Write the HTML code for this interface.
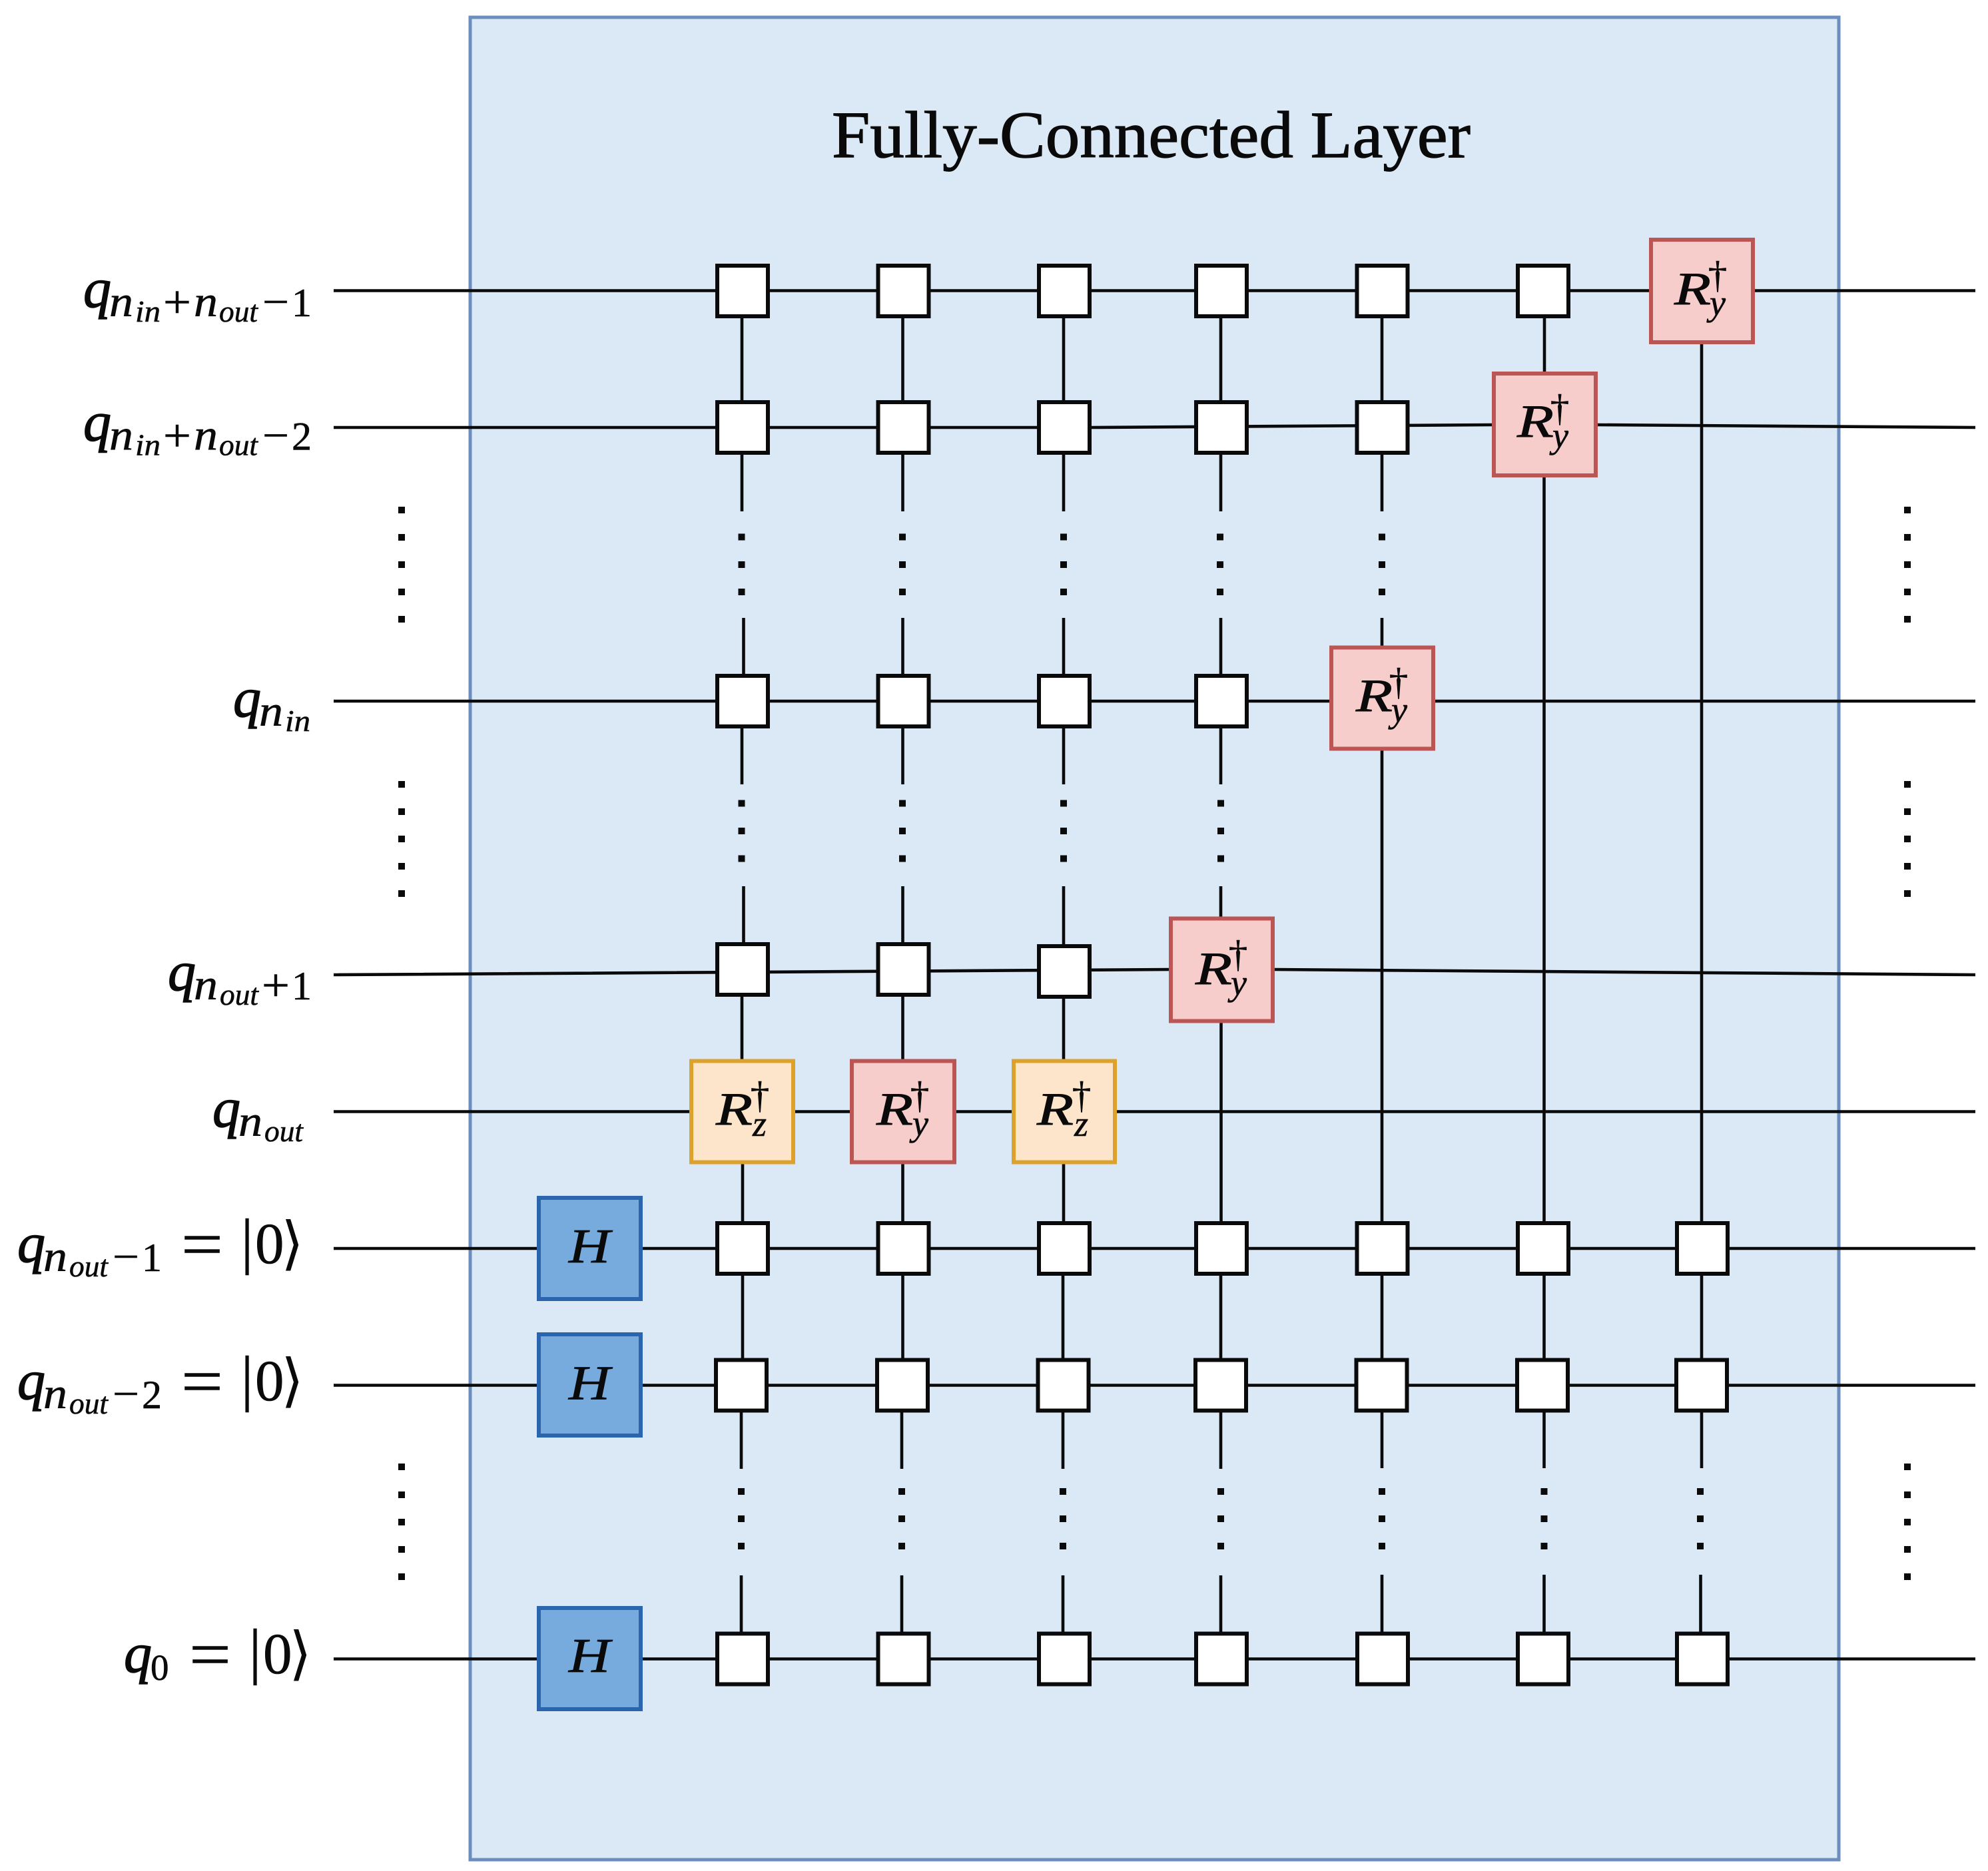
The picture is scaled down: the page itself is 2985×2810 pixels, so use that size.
<!DOCTYPE html>
<html><head><meta charset="utf-8"><title>Fully-Connected Layer</title>
<style>
html,body{margin:0;padding:0;background:#fff}
svg{display:block}
text{fill:#0a0a0a;font-family:"Liberation Serif",serif;stroke:#0a0a0a;stroke-width:.6px}
.q{font-style:italic;font-size:84px;stroke-width:1.4px}
.n{font-style:italic;font-size:66px}
.s{font-style:italic;font-size:46px}
.y{font-style:italic;font-size:54px}
.p{font-size:70px}
.mn{font-size:62px}
.d{font-size:60px}
.R{font-style:italic;font-size:70px;stroke-width:.9px}
.g{font-size:57px;text-anchor:middle}
.H{font-style:italic;font-size:73px;stroke-width:.8px}
.w{fill:#fff;stroke:#0a0a0a;stroke-width:6}
.ry{fill:#f7cdcc;stroke:#bb5654;stroke-width:6}
.rz{fill:#fde5cc;stroke:#dca22b;stroke-width:6}
.h{fill:#77abdd;stroke:#2a65ae;stroke-width:6}
.l{fill:none;stroke:#0a0a0a;stroke-width:4.6}
</style></head><body>
<svg xmlns="http://www.w3.org/2000/svg" width="2985" height="2810" viewBox="0 0 2985 2810">
<rect width="2985" height="2810" fill="#fff"/>
<rect x="706" y="26" width="2055" height="2767" fill="#dbe8f5" stroke="#6c8ebf" stroke-width="5"/>
<text x="1249" y="236" font-size="100" textLength="959" lengthAdjust="spacingAndGlyphs" style="stroke-width:1.3px">Fully-Connected Layer</text>

<path class="l" d="M501 436.500H2966M501 642H1638L2241 638M2398 638L2966 642M501 1053H2966M501 1464L1756 1456M1913 1456L2966 1464M501 1669.500H2966M501 1875H2966M501 2080.500H2966M501 2491.500H2966"/>

<path class="l" d="M1114 437V768M1116.500 928V1013M1114 1053V1178M1116.500 1331V1416M1114 1456V1592M1115 1747V1875M1115 1875V2041M1113 2120V2206M1113 2366V2491"/>
<path class="l" d="M1355.500 437V768M1355.500 928V1178M1355.500 1331V1416M1355.500 1456V1875M1355.500 1875V2041M1354 2120V2206M1354 2366V2491"/>
<path class="l" d="M1597 437V768M1597 928V1178M1597 1331V1420M1597 1459V1875M1596 1875V2041M1596 2120V2206M1596 2366V2491"/>
<path class="l" d="M1833 437V768M1833 928V1178M1833 1331V1377M1833.500 1535V1875M1833 1875V2206M1833 2366V2491"/>
<path class="l" d="M2075 437V768M2075 928V971M2075 1126V2205M2075 2365V2491"/>
<path class="l" d="M2319 437V559M2318.500 716V2205M2318.500 2365V2491"/>
<path class="l" d="M2555 516V2205M2553.500 2365V2491"/>

<g fill="#0a0a0a">
<rect x="598" y="761" width="10" height="10"/><rect x="598" y="802" width="10" height="10"/><rect x="598" y="843" width="10" height="10"/><rect x="598" y="884" width="10" height="10"/><rect x="598" y="925" width="10" height="10"/>
<rect x="598" y="1173" width="10" height="10"/><rect x="598" y="1214" width="10" height="10"/><rect x="598" y="1255" width="10" height="10"/><rect x="598" y="1296" width="10" height="10"/><rect x="598" y="1337" width="10" height="10"/>
<rect x="598" y="2198" width="10" height="10"/><rect x="598" y="2240" width="10" height="10"/><rect x="598" y="2281" width="10" height="10"/><rect x="598" y="2322" width="10" height="10"/><rect x="598" y="2363" width="10" height="10"/>
<rect x="2859" y="761" width="10" height="10"/><rect x="2859" y="802" width="10" height="10"/><rect x="2859" y="843" width="10" height="10"/><rect x="2859" y="884" width="10" height="10"/><rect x="2859" y="925" width="10" height="10"/>
<rect x="2859" y="1173" width="10" height="10"/><rect x="2859" y="1214" width="10" height="10"/><rect x="2859" y="1255" width="10" height="10"/><rect x="2859" y="1296" width="10" height="10"/><rect x="2859" y="1337" width="10" height="10"/>
<rect x="2859" y="2198" width="10" height="10"/><rect x="2859" y="2240" width="10" height="10"/><rect x="2859" y="2281" width="10" height="10"/><rect x="2859" y="2322" width="10" height="10"/><rect x="2859" y="2363" width="10" height="10"/>

<rect x="1108.500" y="801.500" width="10" height="10"/><rect x="1108.500" y="843" width="10" height="10"/><rect x="1108.500" y="884" width="10" height="10"/>
<rect x="1350" y="801.500" width="10" height="10"/><rect x="1350" y="843" width="10" height="10"/><rect x="1350" y="884" width="10" height="10"/>
<rect x="1592" y="801.500" width="10" height="10"/><rect x="1592" y="843" width="10" height="10"/><rect x="1592" y="884" width="10" height="10"/>
<rect x="1827" y="801.500" width="10" height="10"/><rect x="1827" y="843" width="10" height="10"/><rect x="1827" y="884" width="10" height="10"/>
<rect x="2070" y="801.500" width="10" height="10"/><rect x="2070" y="843" width="10" height="10"/><rect x="2070" y="884" width="10" height="10"/>

<rect x="1108.500" y="1201.500" width="10" height="10"/><rect x="1108.500" y="1243" width="10" height="10"/><rect x="1108.500" y="1284.500" width="10" height="10"/>
<rect x="1350" y="1201.500" width="10" height="10"/><rect x="1350" y="1243" width="10" height="10"/><rect x="1350" y="1284.500" width="10" height="10"/>
<rect x="1592" y="1201.500" width="10" height="10"/><rect x="1592" y="1243" width="10" height="10"/><rect x="1592" y="1284.500" width="10" height="10"/>
<rect x="1828" y="1201.500" width="10" height="10"/><rect x="1828" y="1243" width="10" height="10"/><rect x="1828" y="1284.500" width="10" height="10"/>

<rect x="1108" y="2235" width="10" height="10"/><rect x="1108" y="2276" width="10" height="10"/><rect x="1108" y="2317" width="10" height="10"/>
<rect x="1349" y="2235" width="10" height="10"/><rect x="1349" y="2276" width="10" height="10"/><rect x="1349" y="2317" width="10" height="10"/>
<rect x="1591" y="2235" width="10" height="10"/><rect x="1591" y="2276" width="10" height="10"/><rect x="1591" y="2317" width="10" height="10"/>
<rect x="1828" y="2235" width="10" height="10"/><rect x="1828" y="2276" width="10" height="10"/><rect x="1828" y="2317" width="10" height="10"/>
<rect x="2070" y="2235" width="10" height="10"/><rect x="2070" y="2276" width="10" height="10"/><rect x="2070" y="2317" width="10" height="10"/>
<rect x="2313.500" y="2235" width="10" height="10"/><rect x="2313.500" y="2276" width="10" height="10"/><rect x="2313.500" y="2317" width="10" height="10"/>
<rect x="2548" y="2235" width="10" height="10"/><rect x="2548" y="2276" width="10" height="10"/><rect x="2548" y="2317" width="10" height="10"/>
</g>

<g class="w">
<rect class="w" x="1077" y="399" width="76" height="76"/><rect class="w" x="1318.500" y="399" width="76" height="76"/><rect class="w" x="1560" y="399" width="76" height="76"/><rect class="w" x="1796" y="399" width="76" height="76"/><rect class="w" x="2037.500" y="399" width="76" height="76"/><rect class="w" x="2279" y="399" width="76" height="76"/>
<rect class="w" x="1077" y="604" width="76" height="76"/><rect class="w" x="1318.500" y="604" width="76" height="76"/><rect class="w" x="1560" y="604" width="76" height="76"/><rect class="w" x="1796" y="604" width="76" height="76"/><rect class="w" x="2037.500" y="604" width="76" height="76"/>
<rect class="w" x="1077" y="1015" width="76" height="76"/><rect class="w" x="1318.500" y="1015" width="76" height="76"/><rect class="w" x="1560" y="1015" width="76" height="76"/><rect class="w" x="1796" y="1015" width="76" height="76"/>
<rect class="w" x="1077" y="1418" width="76" height="76"/><rect class="w" x="1318.500" y="1418" width="76" height="76"/><rect class="w" x="1560" y="1421" width="76" height="76"/>
<rect class="w" x="1077" y="1837" width="76" height="76"/><rect class="w" x="1318.500" y="1837" width="76" height="76"/><rect class="w" x="1560" y="1837" width="76" height="76"/><rect class="w" x="1796" y="1837" width="76" height="76"/><rect class="w" x="2037.500" y="1837" width="76" height="76"/><rect class="w" x="2279" y="1837" width="76" height="76"/><rect class="w" x="2518" y="1837" width="76" height="76"/>
<rect class="w" x="1075" y="2042.500" width="76" height="76"/><rect class="w" x="1317" y="2042.500" width="76" height="76"/><rect class="w" x="1558.500" y="2042.500" width="76" height="76"/><rect class="w" x="1795" y="2042.500" width="76" height="76"/><rect class="w" x="2036.500" y="2042.500" width="76" height="76"/><rect class="w" x="2278" y="2042.500" width="76" height="76"/><rect class="w" x="2517" y="2042.500" width="76" height="76"/>
<rect class="w" x="1077" y="2453.500" width="76" height="76"/><rect class="w" x="1318.500" y="2453.500" width="76" height="76"/><rect class="w" x="1560" y="2453.500" width="76" height="76"/><rect class="w" x="1796" y="2453.500" width="76" height="76"/><rect class="w" x="2038" y="2453.500" width="76" height="76"/><rect class="w" x="2279" y="2453.500" width="76" height="76"/><rect class="w" x="2518" y="2453.500" width="76" height="76"/>
</g>

<rect class="h" x="809" y="1799" width="153" height="152"/>
<rect class="h" x="809" y="2004" width="153" height="152"/>
<rect class="h" x="809" y="2415" width="153" height="152"/>
<text class="H" x="854" y="1896" textLength="62" lengthAdjust="spacingAndGlyphs">H</text>
<text class="H" x="854" y="2101.500" textLength="62" lengthAdjust="spacingAndGlyphs">H</text>
<text class="H" x="854" y="2511" textLength="62" lengthAdjust="spacingAndGlyphs">H</text>

<rect class="rz" x="1038" y="1593.500" width="153" height="152"/>
<rect class="ry" x="1279" y="1593.500" width="154" height="152"/>
<rect class="rz" x="1522" y="1593.500" width="152" height="152"/>
<rect class="ry" x="1758" y="1379.500" width="153" height="154"/>
<rect class="ry" x="1999" y="972.500" width="153" height="152"/>
<rect class="ry" x="2243" y="561" width="153" height="153"/>
<rect class="ry" x="2479" y="360" width="153" height="154"/>

<text class="R" x="1075" y="1689" textLength="55" lengthAdjust="spacingAndGlyphs">R</text><text class="g" x="1141" y="1664">†</text><text class="y" x="1130" y="1706">z</text>
<text class="R" x="1316" y="1689" textLength="55" lengthAdjust="spacingAndGlyphs">R</text><text class="g" x="1381" y="1664">†</text><text class="y" x="1370" y="1705">y</text>
<text class="R" x="1557" y="1689" textLength="55" lengthAdjust="spacingAndGlyphs">R</text><text class="g" x="1624" y="1664">†</text><text class="y" x="1613" y="1706">z</text>
<text class="R" x="1795" y="1478" textLength="55" lengthAdjust="spacingAndGlyphs">R</text><text class="g" x="1859" y="1452">†</text><text class="y" x="1848" y="1494">y</text>
<text class="R" x="2036" y="1068" textLength="55" lengthAdjust="spacingAndGlyphs">R</text><text class="g" x="2100" y="1043">†</text><text class="y" x="2089" y="1084">y</text>
<text class="R" x="2278" y="656" textLength="55" lengthAdjust="spacingAndGlyphs">R</text><text class="g" x="2342" y="632">†</text><text class="y" x="2331" y="672">y</text>
<text class="R" x="2514" y="457" textLength="55" lengthAdjust="spacingAndGlyphs">R</text><text class="g" x="2579" y="432">†</text><text class="y" x="2567" y="473">y</text>

<g>
<text class="q" x="125" y="461">q</text><text class="n" x="164" y="475" textLength="36" lengthAdjust="spacingAndGlyphs">n</text><text class="s" x="203" y="483" textLength="38" lengthAdjust="spacingAndGlyphs">in</text><text class="p" x="245" y="477" textLength="42" lengthAdjust="spacingAndGlyphs">+</text><text class="n" x="291" y="475" textLength="36" lengthAdjust="spacingAndGlyphs">n</text><text class="s" x="329" y="483" textLength="58" lengthAdjust="spacingAndGlyphs">out</text><text class="mn" x="394" y="474" textLength="40" lengthAdjust="spacingAndGlyphs">−</text><text class="d" x="438" y="475">1</text>
</g>
<g transform="translate(0,200.5)">
<text class="q" x="125" y="461">q</text><text class="n" x="164" y="475" textLength="36" lengthAdjust="spacingAndGlyphs">n</text><text class="s" x="203" y="483" textLength="38" lengthAdjust="spacingAndGlyphs">in</text><text class="p" x="245" y="477" textLength="42" lengthAdjust="spacingAndGlyphs">+</text><text class="n" x="291" y="475" textLength="36" lengthAdjust="spacingAndGlyphs">n</text><text class="s" x="329" y="483" textLength="58" lengthAdjust="spacingAndGlyphs">out</text><text class="mn" x="394" y="474" textLength="40" lengthAdjust="spacingAndGlyphs">−</text><text class="d" x="438" y="475">2</text>
</g>
<g transform="translate(0,615)">
<text class="q" x="350" y="461">q</text><text class="n" x="389" y="475" textLength="36" lengthAdjust="spacingAndGlyphs">n</text><text class="s" x="428" y="483" textLength="38" lengthAdjust="spacingAndGlyphs">in</text>
</g>
<g transform="translate(0,1026)">
<text class="q" x="252" y="461">q</text><text class="n" x="291" y="475" textLength="36" lengthAdjust="spacingAndGlyphs">n</text><text class="s" x="330" y="483" textLength="58" lengthAdjust="spacingAndGlyphs">out</text><text class="p" x="393" y="477" textLength="42" lengthAdjust="spacingAndGlyphs">+</text><text class="d" x="438" y="475">1</text>
</g>
<g transform="translate(0,1231)">
<text class="q" x="319" y="461">q</text><text class="n" x="358" y="475" textLength="36" lengthAdjust="spacingAndGlyphs">n</text><text class="s" x="397" y="483" textLength="58" lengthAdjust="spacingAndGlyphs">out</text>
</g>
<g transform="translate(0,1434)">
<text class="q" x="26" y="461">q</text><text class="n" x="65" y="475" textLength="36" lengthAdjust="spacingAndGlyphs">n</text><text class="s" x="104" y="483" textLength="58" lengthAdjust="spacingAndGlyphs">out</text><text class="mn" x="169" y="474" textLength="40" lengthAdjust="spacingAndGlyphs">−</text><text class="d" x="213" y="475">1</text>
<text x="272" y="468" font-size="100" textLength="63" lengthAdjust="spacingAndGlyphs">=</text><text x="371" y="461" font-size="93" text-anchor="middle">|</text><text x="383" y="463" font-size="87">0</text><text x="422" y="463" font-size="87" style="font-family:'DejaVu Sans',sans-serif;stroke-width:0">⟩</text>
</g>
<g transform="translate(0,1640)">
<text class="q" x="26" y="461">q</text><text class="n" x="65" y="475" textLength="36" lengthAdjust="spacingAndGlyphs">n</text><text class="s" x="104" y="483" textLength="58" lengthAdjust="spacingAndGlyphs">out</text><text class="mn" x="169" y="474" textLength="40" lengthAdjust="spacingAndGlyphs">−</text><text class="d" x="213" y="475">2</text>
<text x="272" y="468" font-size="100" textLength="63" lengthAdjust="spacingAndGlyphs">=</text><text x="371" y="461" font-size="93" text-anchor="middle">|</text><text x="383" y="463" font-size="87">0</text><text x="422" y="463" font-size="87" style="font-family:'DejaVu Sans',sans-serif;stroke-width:0">⟩</text>
</g>
<g transform="translate(0,2050)">
<text class="q" x="186" y="461">q</text><text x="226" y="473" font-size="55">0</text>
<text x="284" y="468" font-size="100" textLength="63" lengthAdjust="spacingAndGlyphs">=</text><text x="383" y="461" font-size="93" text-anchor="middle">|</text><text x="395" y="463" font-size="87">0</text><text x="434" y="463" font-size="87" style="font-family:'DejaVu Sans',sans-serif;stroke-width:0">⟩</text>
</g>
</svg>
</body></html>
